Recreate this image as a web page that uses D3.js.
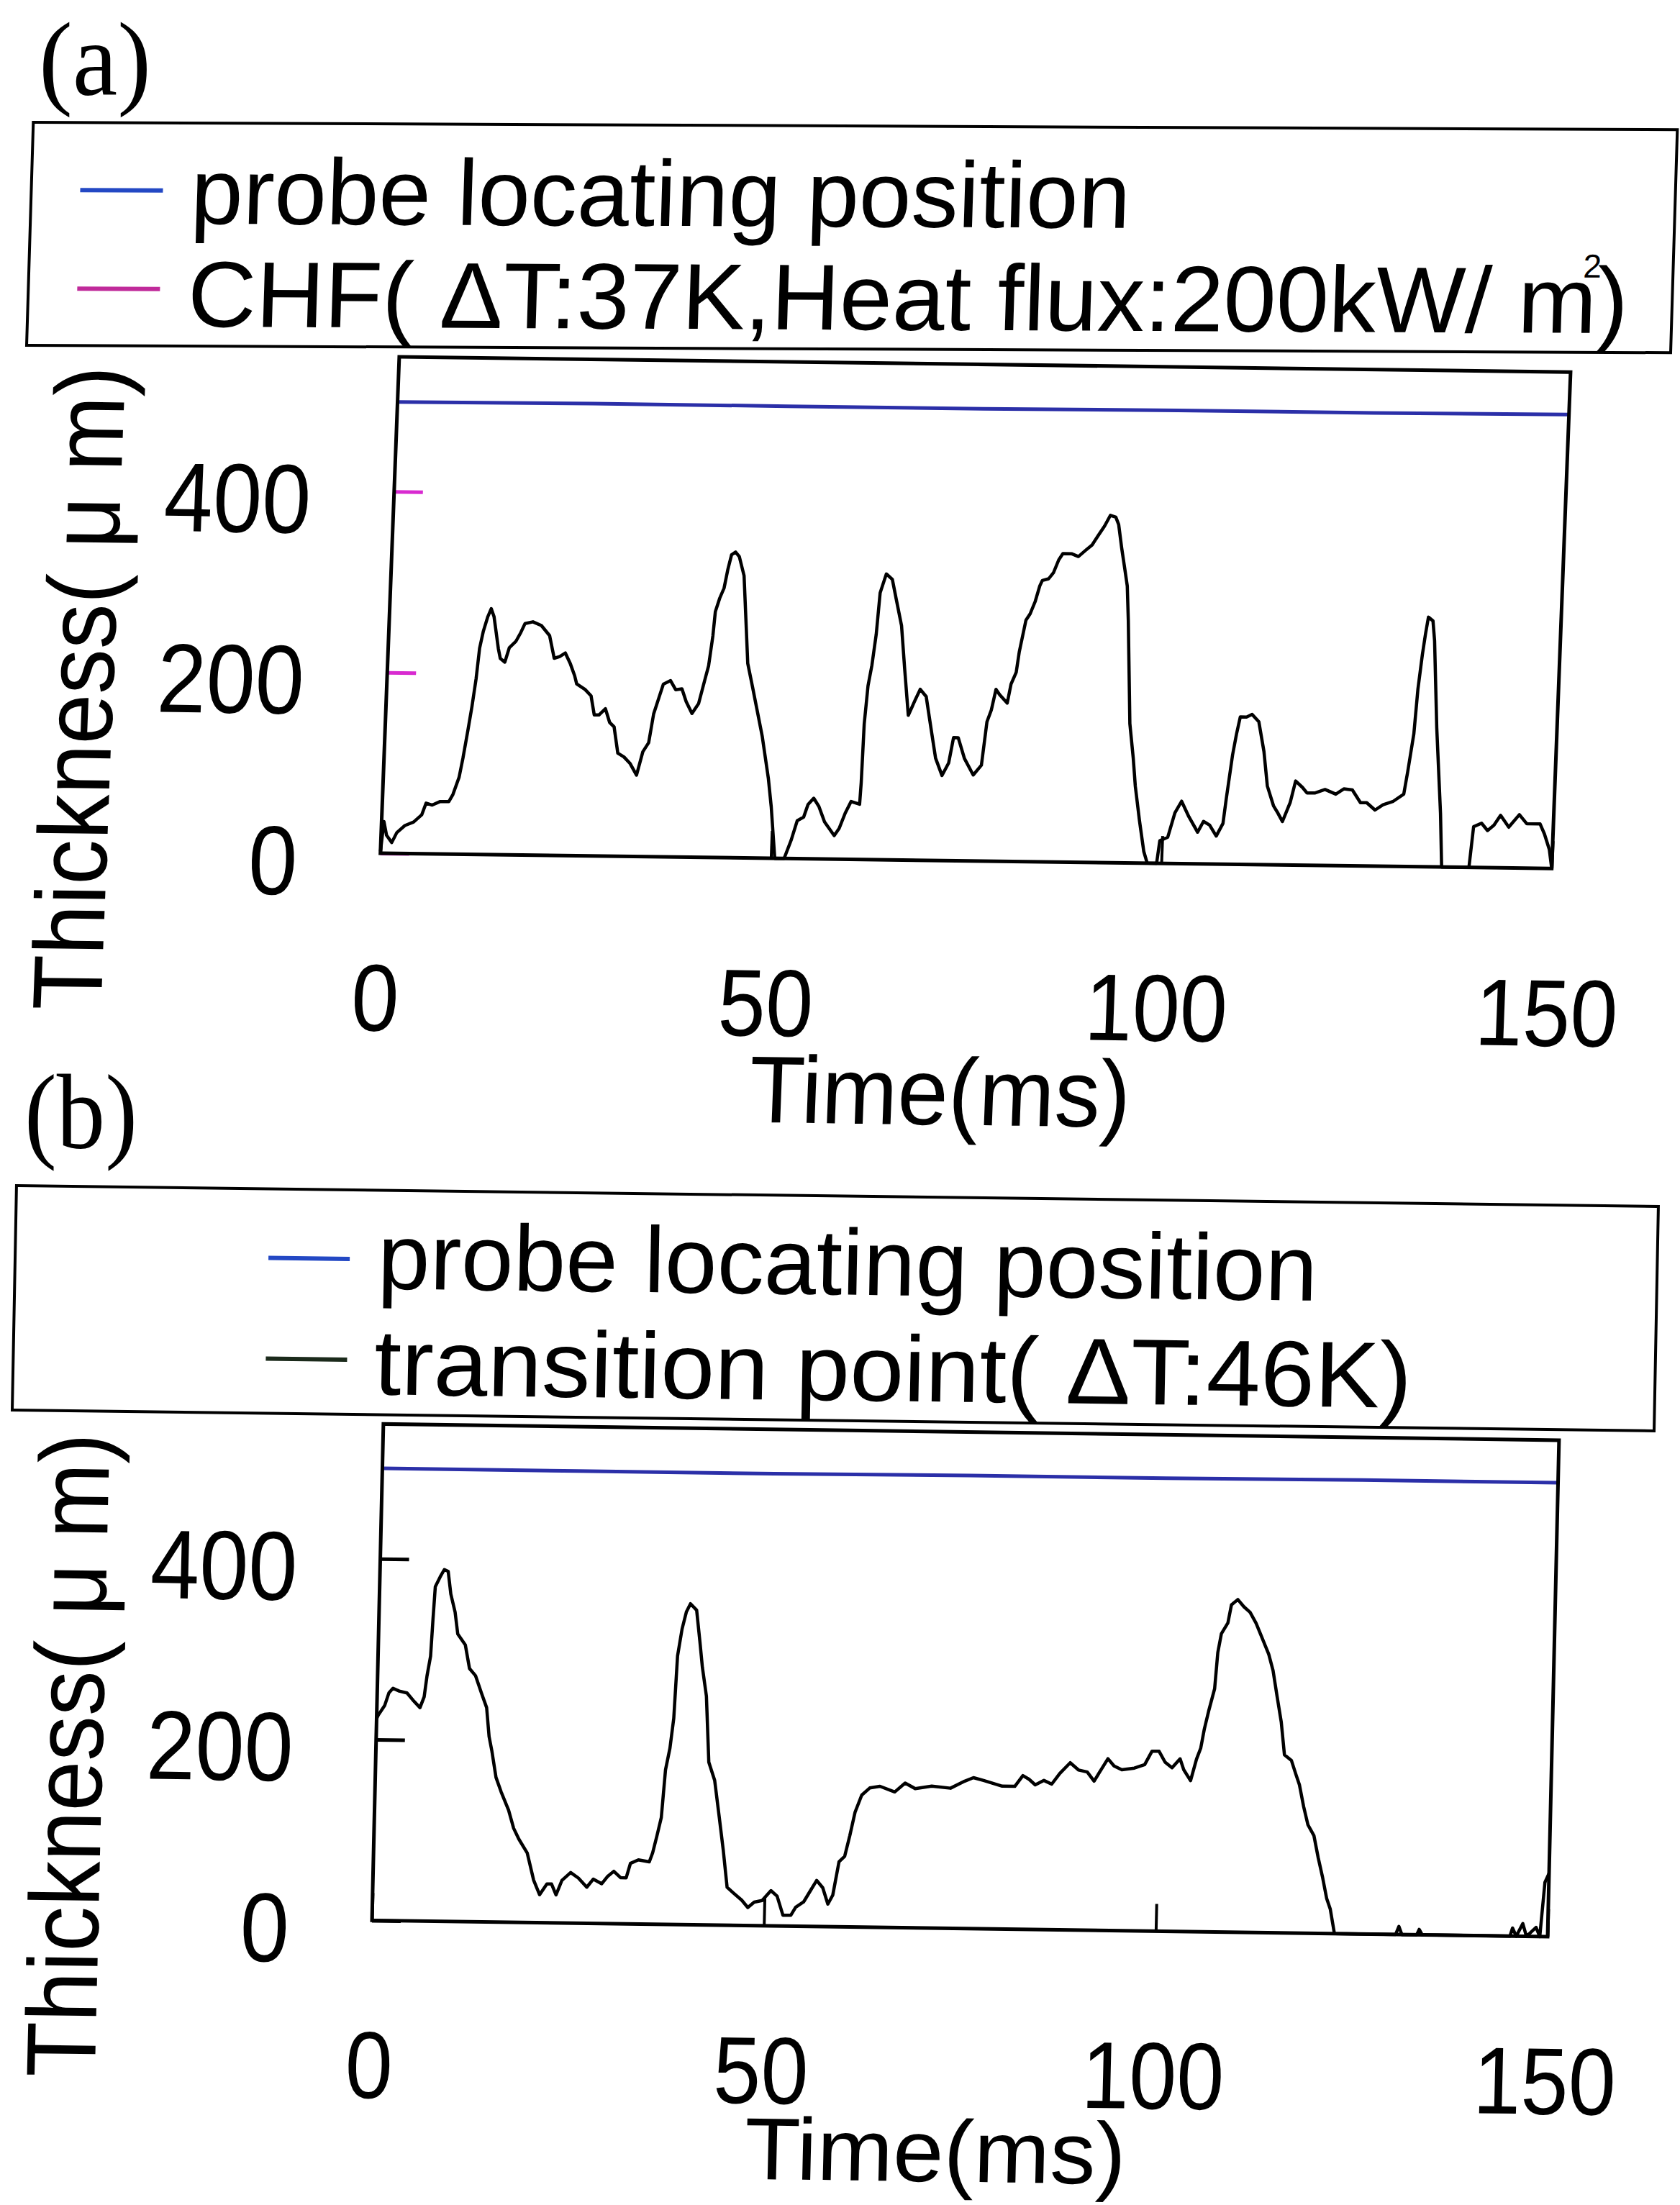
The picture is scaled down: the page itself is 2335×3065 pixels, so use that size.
<!DOCTYPE html>
<html lang="en">
<head>
  <meta charset="UTF-8">
  <title>Liquid film thickness at CHF and transition point</title>
  <script src="https://d3js.org/d3.v7.min.js"></script>
  <style>
    body { margin: 0; padding: 0; background: #fff; }
    svg { display: block; }
    text { font-family: "Liberation Sans", Arial, sans-serif; fill: #000; }
    .panel-tag { font-family: "Liberation Serif", "Times New Roman", serif; }
  </style>
</head>
<body>
<svg id="fig" width="2335" height="3065"></svg>

<script>
  // axes
  const xTicks = [0, 50, 100, 150];
  const yTicks = [0, 200, 400];
  const xMax = 150, yMax = 549;

  // [time (ms), thickness (um)]
  const probeA = [[0, 499], [25, 500], [50, 500], [75, 500], [100, 501], [125, 501], [150, 502]];
  const probeB = [[0, 500], [25, 500], [50, 500], [75, 501], [100, 501], [125, 502], [150, 502]];

  const chfA = [
    [0, 2], [0.3, 35], [0.7, 20], [1.4, 12], [2.0, 23], [3.0, 31], [4.1, 35], [5.1, 43], [5.6, 56], [6.4, 54],
    [7.4, 58], [8.5, 58], [9.0, 66], [9.7, 85], [10.1, 106], [10.6, 137], [11.0, 163], [11.4, 194], [11.7, 228],
    [12.1, 247], [12.6, 263], [13.0, 272], [13.4, 263], [14.1, 228], [14.4, 217], [15.0, 213], [15.5, 229],
    [16.3, 236], [16.9, 246], [17.4, 256], [18.4, 258], [19.5, 254], [20.6, 243], [21.3, 218], [22.0, 220],
    [22.7, 224], [23.4, 212], [24.0, 199], [24.3, 190], [25.4, 184], [26.2, 177], [26.7, 156], [27.3, 156],
    [28.1, 163], [28.7, 148], [29.3, 143], [29.9, 114], [30.7, 110], [31.5, 103], [32.4, 90], [33.1, 116],
    [33.8, 126], [34.3, 158], [34.9, 176], [35.4, 191], [36.3, 195], [37.0, 185], [37.8, 186], [38.4, 172],
    [39.2, 159], [40.0, 170], [40.7, 197], [41.1, 212], [41.5, 245], [41.7, 272], [42.2, 287], [42.7, 298],
    [43.1, 319], [43.5, 335], [44.0, 338], [44.5, 333], [45.2, 312], [46.1, 215], [46.8, 190], [47.4, 168],
    [48.3, 135], [49.3, 88], [49.8, 57], [50.5, 0], [51.7, 0], [52.5, 20], [53.2, 42], [54.0, 46], [54.5, 60],
    [55.2, 67], [55.9, 58], [56.7, 41], [58.0, 26], [58.6, 34], [59.3, 51], [60.0, 64], [61.1, 61], [61.2, 85],
    [61.3, 150], [61.6, 192], [62.0, 215], [62.4, 249], [62.7, 295], [63.4, 316], [64.2, 310], [64.8, 288],
    [65.6, 259], [66.2, 212], [66.9, 160], [67.7, 177], [68.3, 189], [69.1, 181], [70.0, 140], [70.6, 113],
    [71.5, 94], [72.3, 108], [72.8, 136], [73.4, 136], [74.3, 113], [75.5, 95], [76.5, 106], [77.0, 154],
    [77.5, 167], [78.0, 190], [78.5, 184], [79.5, 175], [79.9, 196], [80.5, 209], [80.8, 232], [81.5, 267],
    [82.0, 274], [82.6, 288], [83.1, 305], [83.4, 311], [84.2, 313], [84.8, 320], [85.4, 334], [85.9, 341],
    [87.0, 341], [87.9, 338], [88.8, 345], [89.6, 351], [90.3, 361], [91.1, 372], [91.8, 384], [92.5, 382],
    [92.9, 374], [93.4, 348], [93.9, 325], [94.3, 306], [94.6, 268], [95.3, 154], [95.9, 116], [96.3, 85],
    [97.0, 47], [97.7, 13], [98.2, 0], [99.4, 0], [99.7, 25], [100.7, 29], [101.5, 56], [102.3, 69], [103.3, 52],
    [104.5, 35], [105.2, 47], [106.0, 43], [106.9, 31], [107.7, 45], [108.0, 72], [108.6, 121], [109.0, 144],
    [109.4, 163], [110.2, 163], [110.9, 166], [111.8, 158], [112.6, 125], [113.2, 87], [114.1, 65], [114.7, 57],
    [115.3, 48], [116.2, 69], [116.8, 93], [117.7, 86], [118.3, 80], [119.3, 80], [120.6, 84], [122.0, 79],
    [123.0, 85], [124.1, 84], [125.2, 70], [126.0, 70], [127.1, 62], [128.1, 68], [129.4, 72], [130.7, 80],
    [131.1, 105], [131.7, 147], [132.0, 196], [132.4, 234], [132.7, 257], [133.0, 276], [133.6, 272],
    [133.9, 250], [134.6, 154], [135.5, 59], [135.9, 0], [139.4, 0], [139.8, 45], [140.8, 49], [141.6, 41],
    [142.4, 47], [143.2, 58], [144.3, 45], [145.6, 59], [146.6, 49], [148.3, 49], [148.9, 38], [149.6, 21], [150, 0]
  ];

  const transitionB = [
    [0, 223], [0.2, 227], [1.0, 238], [1.5, 252], [2.0, 257], [2.8, 254], [3.8, 252], [4.6, 244], [5.5, 236],
    [6.0, 248], [6.3, 271], [6.7, 293], [6.9, 334], [7.1, 370], [7.7, 381], [8.2, 389], [8.7, 387], [9.1, 362],
    [9.7, 342], [10.1, 318], [11.1, 306], [11.7, 280], [12.5, 272], [13.3, 253], [14.0, 237], [14.4, 205],
    [14.8, 189], [15.4, 160], [16.1, 144], [17.1, 124], [17.8, 104], [18.5, 92], [19.6, 77], [20.5, 47],
    [21.3, 31], [22.2, 43], [22.8, 43], [23.4, 31], [24.1, 47], [25.2, 56], [26.2, 50], [27.3, 40], [28.1, 49],
    [29.2, 44], [29.9, 52], [30.7, 58], [31.6, 51], [32.3, 51], [32.8, 67], [33.8, 71], [35.2, 69], [35.6, 79],
    [36.1, 98], [36.6, 118], [37.0, 171], [37.5, 195], [37.9, 228], [38.2, 297], [38.7, 327], [39.2, 346],
    [39.7, 355], [40.5, 348], [41.0, 314], [41.4, 285], [42.0, 253], [42.5, 180], [43.3, 160], [44.0, 119],
    [44.6, 83], [45.2, 42], [46.0, 36], [47.1, 28], [47.9, 20], [48.7, 26], [49.7, 28], [50.8, 39], [51.6, 33],
    [52.4, 12], [53.4, 12], [54.0, 21], [55.0, 27], [55.8, 39], [56.6, 51], [57.4, 43], [58.1, 25], [58.7, 35],
    [59.4, 72], [60.1, 78], [60.7, 101], [61.3, 127], [62.1, 146], [63.1, 154], [64.4, 156], [66.3, 150],
    [67.6, 160], [68.9, 154], [71.0, 157], [73.4, 155], [75.2, 163], [76.3, 167], [77.6, 164], [80.0, 158],
    [81.6, 158], [82.6, 170], [83.4, 166], [84.2, 160], [85.3, 165], [86.3, 161], [87.3, 173], [88.6, 185],
    [89.7, 177], [90.8, 175], [91.7, 165], [92.3, 174], [93.4, 190], [94.2, 182], [95.2, 178], [96.8, 180],
    [98.1, 184], [99.0, 199], [99.9, 199], [100.7, 187], [101.6, 181], [102.6, 191], [103.1, 179], [104.0, 167],
    [104.7, 191], [105.2, 203], [105.6, 224], [106.1, 244], [106.8, 269], [107.1, 309], [107.5, 330],
    [108.3, 342], [108.7, 362], [109.5, 368], [110.3, 360], [111.1, 354], [111.9, 342], [112.8, 324],
    [113.6, 308], [114.2, 290], [114.8, 261], [115.4, 233], [115.9, 197], [116.8, 191], [117.4, 176],
    [117.9, 164], [118.5, 140], [119.1, 120], [119.9, 108], [120.5, 84], [121.1, 63], [121.7, 39], [122.2, 27],
    [122.8, 0], [130.6, 0], [131, 9], [131.4, 0], [133.3, 0], [133.6, 6], [134, 0], [145.2, 0], [145.5, 9],
    [146, 0], [146.8, 14], [147.3, 0], [148.5, 10], [149, 0], [149.2, 24], [149.5, 60], [150, 70]
  ];

  const legendA = ["probe locating position", "CHF( \u0394T:37K,Heat flux:200kW/ m)"];
  const legendB = ["probe locating position", "transition point( \u0394T:46K)"];

  const svg = d3.select("#fig");
  svg.append("rect").attr("width", 2335).attr("height", 3065).attr("fill", "#fff");

  const probeColor = "#2b2fa8";

  // the scanned figure is slightly sheared, so each block gets its own matrix
  function shear(p) {
    return `matrix(1,${p.slope},${-p.lean},1,${p.origin[0]},${p.origin[1]})`;
  }

  function drawPanel(p) {
    const H = 690;
    const g = svg.append("g").attr("transform", shear(p));
    const x = d3.scaleLinear().domain([0, xMax]).range([0, p.width]);
    const y = d3.scaleLinear().domain([0, yMax]).range([0, -H]);
    const line = d3.line().x(d => x(d[0])).y(d => y(d[1]));

    const yAxis = g.append("g")
      .call(d3.axisLeft(y).tickValues(yTicks).tickSize(-40).tickPadding(115));
    yAxis.select(".domain").remove();
    yAxis.selectAll(".tick line").attr("stroke", p.yTickColor).attr("stroke-width", 5);
    yAxis.selectAll(".tick text")
      .attr("font-size", 136)
      .attr("dy", "0.43em")
      .attr("textLength", d => 68 * String(d).length)
      .attr("lengthAdjust", "spacingAndGlyphs");

    const xAxis = g.append("g")
      .call(d3.axisBottom(x).tickValues(xTicks).tickSize(-38).tickPadding(153));
    xAxis.select(".domain").remove();
    xAxis.selectAll(".tick line").attr("stroke", "#000").attr("stroke-width", 4);
    xAxis.selectAll(".tick text")
      .attr("font-size", 132)
      .attr("textLength", d => 66 * String(d).length)
      .attr("lengthAdjust", "spacingAndGlyphs");

    g.append("path").datum(p.probe)
      .attr("d", line).attr("fill", "none")
      .attr("stroke", probeColor).attr("stroke-width", 5);

    g.append("path").datum(p.film)
      .attr("d", line).attr("fill", "none")
      .attr("stroke", "#000").attr("stroke-width", 4.5)
      .attr("stroke-linejoin", "round");

    g.append("rect")
      .attr("x", 0).attr("y", -H)
      .attr("width", p.width).attr("height", H)
      .attr("fill", "none").attr("stroke", "#000").attr("stroke-width", 5);

    g.append("text")
      .attr("x", 790).attr("y", p.titleY)
      .attr("text-anchor", "middle")
      .attr("font-size", p.titleSize)
      .attr("textLength", 530).attr("lengthAdjust", "spacingAndGlyphs")
      .text("Time(ms)");

    g.append("text")
      .attr("transform", "translate(-380,-224) rotate(-90)")
      .attr("text-anchor", "middle")
      .attr("font-size", 137)
      .attr("textLength", 895).attr("lengthAdjust", "spacingAndGlyphs")
      .text("Thickness( \u03bc m)");
  }

  function drawLegend(L) {
    const g = svg.append("g").attr("transform", shear(L));
    g.append("rect")
      .attr("x", 0).attr("y", -L.h)
      .attr("width", L.w).attr("height", L.h)
      .attr("fill", "none").attr("stroke", "#000").attr("stroke-width", 4);

    L.items.forEach(it => {
      g.append("line")
        .attr("x1", it.dash[0]).attr("x2", it.dash[1])
        .attr("y1", it.dashY).attr("y2", it.dashY)
        .attr("stroke", it.color).attr("stroke-width", 6);
      g.append("text")
        .attr("x", it.textX).attr("y", it.textY)
        .attr("font-size", 130)
        .attr("textLength", it.len).attr("lengthAdjust", "spacingAndGlyphs")
        .text(it.label);
    });
    if (L.sup) {
      g.append("text")
        .attr("x", L.sup.x).attr("y", L.sup.y)
        .attr("font-size", 46)
        .text("2");
    }
  }

  // panel tags
  svg.append("text").attr("class", "panel-tag")
    .attr("x", 54).attr("y", 132).attr("font-size", 146)
    .attr("textLength", 156).attr("lengthAdjust", "spacingAndGlyphs")
    .text("(a)");
  svg.append("text").attr("class", "panel-tag")
    .attr("x", 34).attr("y", 1596).attr("font-size", 148)
    .attr("textLength", 157).attr("lengthAdjust", "spacingAndGlyphs")
    .text("(b)");

  drawLegend({
    origin: [37, 480], slope: 0.0045, lean: 0.03, w: 2285, h: 310,
    items: [
      { label: legendA[0], color: "#2348c4", dash: [68, 183], dashY: -216, textX: 222, textY: -170, len: 1306 },
      { label: legendA[1], color: "#c02a9a", dash: [68, 183], dashY: -79, textX: 222, textY: -27, len: 2002 }
    ],
    sup: { x: 2160, y: -104 }
  });

  drawLegend({
    origin: [17, 1960], slope: 0.0127, lean: 0.019, w: 2282, h: 312,
    items: [
      { label: legendB[0], color: "#2348c4", dash: [352, 465], dashY: -216, textX: 504, textY: -175, len: 1306 },
      { label: legendB[1], color: "#1b2a1b", dash: [351, 464], dashY: -76, textX: 502, textY: -28, len: 1442 }
    ]
  });

  drawPanel({
    origin: [528.7, 1186], slope: 0.013, lean: 0.038, width: 1628, titleY: 367, titleSize: 132,
    probe: probeA, film: chfA, yTickColor: "#d82ad0"
  });

  drawPanel({
    origin: [517, 2669.4], slope: 0.0138, lean: 0.023, width: 1634, titleY: 352, titleSize: 122,
    probe: probeB, film: transitionB, yTickColor: "#000"
  });
</script>
</body>
</html>
